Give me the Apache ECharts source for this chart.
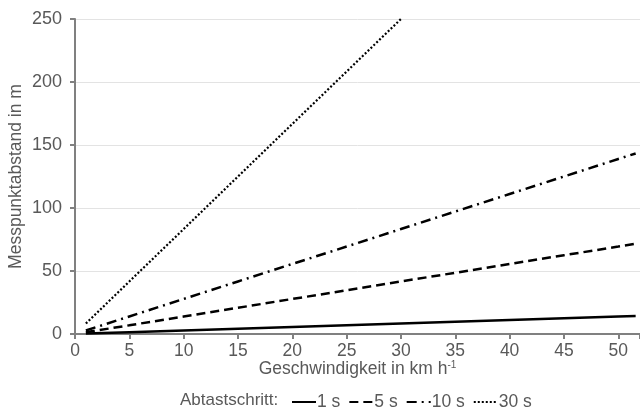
<!DOCTYPE html>
<html>
<head>
<meta charset="utf-8">
<script src="https://cdn.jsdelivr.net/npm/echarts@6/dist/echarts.min.js"></script>
<style>html,body{margin:0;padding:0;background:#fff}#c{width:640px;height:420px}</style>
</head>
<body>
<div id="c"></div>
<script>
// Speeds (km/h)
var speeds = [1, 5, 10, 15, 20, 25, 30, 35, 40, 45, 50, 51.6];
var speeds30 = [1, 5, 10, 15, 20, 25, 30];
// Distances (m) for each sampling step
var step1 = [0.3, 1.4, 2.8, 4.2, 5.6, 6.9, 8.3, 9.7, 11.1, 12.5, 13.9, 14.3];
var step5 = [1.4, 6.9, 13.9, 20.8, 27.8, 34.7, 41.7, 48.6, 55.6, 62.5, 69.4, 71.7];
var step10 = [2.8, 13.9, 27.8, 41.7, 55.6, 69.4, 83.3, 97.2, 111.1, 125.0, 138.9, 143.3];
var step30 = [8.3, 41.7, 83.3, 125.0, 166.7, 208.3, 250.0];
var seriesNames = ['1 s', '5 s', '10 s', '30 s'];
var xTicks = [0, 5, 10, 15, 20, 25, 30, 35, 40, 45, 50];
var yTicks = [0, 50, 100, 150, 200, 250];

function pairs(xs, ys) { return xs.map(function (x, i) { return [x, ys[i]]; }); }

var txt = '#595959';
var font = 'Liberation Sans, Arial, sans-serif';
var fs = 17.5;
var chart = echarts.init(document.getElementById('c'));
chart.setOption({
  animation: false,
  grid: { left: 75, right: 0, top: 19, bottom: 86, containLabel: false, outerBoundsMode: 'none' },
  textStyle: { fontFamily: font },
  xAxis: {
    type: 'value', min: 0, max: 52, interval: 5,
    name: 'Geschwindigkeit in km h{sup|-1}',
    nameLocation: 'middle', nameGap: 26, nameMoveOverlap: false,
    nameTextStyle: { color: txt, fontSize: fs, fontFamily: font, verticalAlign: 'top',
      rich: { sup: { fontSize: 10, color: txt, verticalAlign: 'top', padding: [0, 0, 9, 0], fontFamily: font } } },
    axisLine: { lineStyle: { color: '#808080', width: 2 } },
    axisTick: { show: true, length: 5, lineStyle: { color: '#808080', width: 2 } },
    axisLabel: { color: txt, fontSize: fs, fontFamily: font, margin: 8,
      formatter: function (v) { return xTicks.indexOf(v) >= 0 ? String(v) : ''; } },
    splitLine: { show: false }
  },
  yAxis: {
    type: 'value', min: 0, max: 250, interval: 50,
    name: 'Messpunktabstand in m', nameLocation: 'middle', nameGap: 50, nameMoveOverlap: false,
    nameTextStyle: { color: txt, fontSize: fs, fontFamily: font },
    axisLine: { show: true, lineStyle: { color: '#808080', width: 2 } },
    axisTick: { show: true, length: 5, lineStyle: { color: '#808080', width: 2 } },
    axisLabel: { color: txt, fontSize: 18, fontFamily: font, margin: 13,
      formatter: function (v) { return yTicks.indexOf(v) >= 0 ? String(v) : ''; } },
    splitLine: { lineStyle: { color: '#e3e3e3', width: 1 } }
  },
  legend: {
    top: 388, left: 286, itemWidth: 24, itemHeight: 10, itemGap: 8,
    itemStyle: { opacity: 0, color: 'transparent', borderWidth: 0 },
    textStyle: { color: txt, fontSize: fs, fontFamily: font, padding: [0, 0, 0, -4] },
    data: seriesNames
  },
  graphic: [{
    type: 'text', left: 180, top: 392,
    style: { text: 'Abtastschritt:', fill: txt, font: '17px ' + font }
  }],
  series: [
    { name: seriesNames[0], type: 'line', data: pairs(speeds, step1), symbol: 'none', showSymbol: false,
      lineStyle: { color: '#000', width: 2.5, type: 'solid' }, itemStyle: { color: '#000' } },
    { name: seriesNames[1], type: 'line', data: pairs(speeds, step5), symbol: 'none', showSymbol: false,
      lineStyle: { color: '#000', width: 2.5, type: [9, 5] }, itemStyle: { color: '#000' } },
    { name: seriesNames[2], type: 'line', data: pairs(speeds, step10), symbol: 'none', showSymbol: false,
      lineStyle: { color: '#000', width: 2.5, type: [10, 5, 2, 5] }, itemStyle: { color: '#000' } },
    { name: seriesNames[3], type: 'line', data: pairs(speeds30, step30), symbol: 'none', showSymbol: false,
      lineStyle: { color: '#000', width: 2.2, type: [2, 2] }, itemStyle: { color: '#000' } }
  ]
});
</script>
</body>
</html>
